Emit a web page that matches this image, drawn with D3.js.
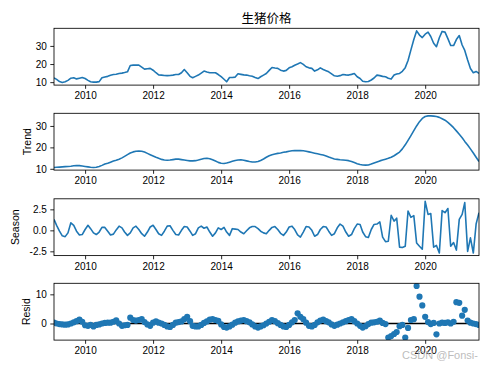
<!DOCTYPE html>
<html><head><meta charset="utf-8">
<script src="https://cdn.jsdelivr.net/npm/d3@7"></script>
<style>body{margin:0;background:#fff} svg{display:block}</style>
</head><body>
<svg id="c" width="490" height="368"></svg>
<script>
// ---- data (monthly, starting Feb 2009) ----
const startYear = 2009, startMonthIndex = 1; // Feb
const title = "生猪价格";
const panelLabels = ["", "Trend", "Season", "Resid"];
const observed = [
 12.4, 11.5, 10.3, 9.8, 10.2, 11.0, 12.2, 12.4, 11.8, 12.2,
 12.6, 12.0, 11.0, 10.2, 10.0, 10.0, 10.3, 12.4, 12.8, 13.2,
 13.8, 14.2, 14.4, 14.8, 15.0, 15.3, 15.7, 19.2, 19.4, 19.4,
 19.4, 18.3, 17.2, 17.4, 17.6, 16.6, 15.2, 14.0, 13.9, 13.7,
 13.6, 13.7, 13.9, 14.2, 14.2, 15.2, 17.0, 15.2, 13.2, 12.4,
 13.2, 13.9, 15.0, 16.1, 15.6, 15.2, 15.2, 15.2, 14.2, 13.0,
 11.6, 10.2, 12.6, 12.6, 12.8, 14.6, 14.3, 14.0, 13.9, 13.5,
 13.3, 12.6, 12.0, 13.0, 13.9, 14.8, 16.5, 18.1, 17.8, 17.6,
 16.6, 16.1, 16.5, 17.9, 18.5, 19.3, 20.0, 20.8, 19.8, 18.5,
 17.9, 17.6, 16.1, 16.8, 17.9, 17.0, 16.3, 15.7, 14.6, 13.5,
 13.3, 13.6, 14.2, 14.0, 13.9, 14.3, 14.8, 13.0, 12.0, 10.5,
 10.2, 10.4, 11.2, 12.3, 13.9, 13.6, 13.2, 13.0, 12.2, 11.7,
 13.9, 14.5, 14.8, 16.0, 18.0, 22.0, 27.8, 33.5, 38.3, 36.0,
 34.6, 36.5, 37.6, 35.2, 31.5, 29.6, 34.5, 38.0, 37.6, 34.0,
 30.2, 30.2, 33.5, 35.7, 30.5, 27.5, 22.2, 17.5, 15.2, 15.9, 14.8
];
const trend = [
 10.6, 10.7, 10.8, 10.9, 11.0, 11.1, 11.2, 11.4, 11.5, 11.5,
 11.3, 11.1, 10.9, 10.7, 10.6, 10.7, 11.1, 11.6, 12.2, 12.6,
 13.1, 13.6, 14.0, 14.5, 15.1, 15.8, 16.6, 17.4, 17.9, 18.2,
 18.3, 18.2, 17.8, 17.2, 16.6, 16.0, 15.4, 14.9, 14.4, 14.1,
 14.0, 14.1, 14.3, 14.5, 14.5, 14.3, 14.1, 13.9, 13.7, 13.7,
 13.8, 14.1, 14.5, 14.8, 14.9, 14.7, 14.2, 13.6, 13.0, 12.6,
 12.5, 12.7, 13.1, 13.5, 13.9, 14.1, 14.2, 14.0, 13.7, 13.4,
 13.2, 13.2, 13.4, 13.9, 14.6, 15.4, 16.1, 16.6, 16.9, 17.2,
 17.4, 17.7, 17.9, 18.2, 18.4, 18.5, 18.5, 18.5, 18.4, 18.2,
 17.9, 17.6, 17.3, 17.0, 16.7, 16.4, 16.0, 15.5, 15.0, 14.6,
 14.4, 14.2, 14.1, 14.0, 13.8, 13.4, 12.9, 12.4, 12.0, 11.8,
 11.7, 11.8, 12.2, 12.7, 13.2, 13.7, 14.1, 14.5, 14.9, 15.4,
 16.1, 16.9, 17.8, 19.3, 21.2, 23.3, 25.5, 27.8, 30.0, 32.0,
 33.5, 34.4, 34.7, 34.7, 34.6, 34.4, 34.0, 33.4, 32.7, 31.7,
 30.5, 29.2, 27.7, 26.1, 24.5, 22.8, 21.1, 19.3, 17.4, 15.4, 13.4
];
const season = [
 1.3, 0.6, -0.1, -0.65, -0.75, -0.3, 0.9, 0.6, -0.1, -0.55,
 -0.5, 0.1, 0.6, 0.2, -0.3, -0.5, -0.2, 0.35, 0.35, -0.1,
 -0.55, -0.45, 0.05, 0.5, 0.3, -0.2, -0.6, -0.3, 0.3, 0.5,
 0.1, -0.4, -0.7, -0.2, 0.4, 0.6, 0.1, -0.4, -0.6, -0.1,
 0.5, 0.55, 0.0, -0.5, -0.55, 0.0, 0.45, 0.4, -0.1, -0.6,
 -0.4, 0.3, 0.5, 0.25, 0.4, -0.2, -0.7, -0.3, 0.3, 0.1,
 0.35, -0.2, -0.6, 0.2, 0.15, 0.1, -0.2, -0.4, -0.05, 0.3,
 0.45, 0.45, 0.2, -0.1, -0.3, -0.4, 0.0, 0.35, 0.45, 0.1,
 -0.35, -0.6, -0.2, 0.4, 0.5, 0.1, -0.55, -0.8, -0.2, 0.45,
 0.4, 0.0, -0.7, -0.5, 0.1, 0.45, 0.4, -0.1, -0.6, -0.4,
 0.3, 0.75, 0.5, -0.2, -0.7, -0.5, 0.2, 0.75, 0.7, -0.2,
 -0.75, -0.85, 0.1, 0.7, 0.75, 1.0, -0.8, -1.35, -1.3, 1.8,
 1.1, 1.45, -2.0, -2.05, -1.9, 2.3, 1.55, 1.75, -1.5, -1.9,
 -2.25, 3.45, 1.9, 2.0, -2.0, -1.8, -2.7, 2.35, 2.1, 2.6,
 -1.9, -1.45, -2.35, 1.3, 1.9, 3.3, -2.5, -0.9, -2.7, 0.75, 2.1
];
const resid = [
 0.3, 0.0, -0.2, -0.3, -0.4, -0.3, 0.0, 0.4, 0.8, 1.3,
 0.6, -0.6, -0.8, -0.5, -1.0, -0.5, -0.3, 0.0, 0.2, 0.3,
 0.3, 0.6, 1.1, 0.0, -0.8, -0.6, -0.5, 2.0, 1.2, 1.0,
 1.2, 1.5, 0.5, -0.3, -0.8, 0.3, 0.7, 0.3, 0.0, -0.5,
 -1.0, -1.2, -0.5, 0.3, 0.5, 0.7, 1.5, 2.3, 0.8, -0.8,
 -1.0, -1.0, -0.5, 0.2, 0.7, 1.3, 1.5, 1.2, 0.9, -0.3,
 -1.2, -1.4, -1.0, -0.4, 0.3, 0.7, 1.0, 1.2, 0.8, 0.4,
 -0.3, -1.0, -1.4, -1.0, -0.6, 0.0, 0.6, 1.2, 0.8, 0.1,
 -0.5, -1.0, -1.2, -0.5, 0.4, 1.2, 3.5, 2.3, 1.5, 0.3,
 -0.8, -1.0, -0.5, 0.4, 1.0, 1.3, 0.8, 0.4, -0.3, -0.8,
 -0.4, 0.0, 0.4, 0.8, 1.2, 1.5, 0.8, 0.0, -0.8, -1.4,
 -0.9, -0.2, 0.3, 0.4, 0.6, 1.0, 0.2, -0.2, -4.8, -4.3,
 -3.6, -2.9, -0.9, -0.5, -4.8, -1.5, 1.2, 1.5, 12.9, 9.2,
 6.2, 2.3, 0.5, -0.2, 0.2, -3.7, 0.0, 0.3, 0.2, 0.4,
 0.0, 0.6, 7.3, 7.1, 2.7, 4.7, 1.0, 0.3, 0.0, -0.2, -0.5
];
const xTickYears = [2010, 2012, 2014, 2016, 2018, 2020];
const yTicks = [[10, 20, 30], [10, 20, 30], [-2.5, 0, 2.5], [0, 10]];
const watermark = "CSDN @Fonsi-";

// ---- layout ----
const svg = d3.select("#c");
const L = 54, R = 479;
const tops = [28.3, 113.3, 198.8, 283.3];
const H = 56.8;
const blue = "#1f77b4";
const latin = "'Liberation Sans', Arial, sans-serif";
const cjk = "'Noto Sans CJK SC', 'Noto Sans', sans-serif";

const dates = observed.map((_, i) => new Date(startYear, startMonthIndex + i, 1));
const x = d3.scaleTime().domain([dates[0], dates[dates.length - 1]]).range([L, R]);

const series = [observed, trend, season, resid];
const fmts = [d3.format("d"), d3.format("d"), d => d.toFixed(1), d3.format("d")];
const labelX = [0, 27, 15, 26];

series.forEach((vals, p) => {
  const top = tops[p], bot = top + H;
  const mn = d3.min(vals), mx = d3.max(vals), pad = (mx - mn) * 0.05;
  const y = d3.scaleLinear().domain([mn - pad, mx + pad]).range([bot, top]);
  const g = svg.append("g");
  const cid = "clip" + p;
  svg.append("clipPath").attr("id", cid).append("rect")
    .attr("x", L).attr("y", top).attr("width", R - L).attr("height", H);
  const content = g.append("g").attr("clip-path", `url(#${cid})`);
  if (p < 3) {
    content.append("path").datum(vals)
      .attr("fill", "none").attr("stroke", blue).attr("stroke-width", 1.6)
      .attr("stroke-linejoin", "round")
      .attr("d", d3.line().x((d, i) => x(dates[i])).y(d => y(d)));
  } else {
    content.append("line").attr("x1", L).attr("x2", R)
      .attr("y1", y(0)).attr("y2", y(0)).attr("stroke", "#000").attr("stroke-width", 1.6);
    content.selectAll("circle").data(vals).join("circle")
      .attr("cx", (d, i) => x(dates[i])).attr("cy", d => y(d)).attr("r", 3.1)
      .attr("fill", blue);
  }
  // x axis
  const xa = g.append("g").attr("transform", `translate(0,${bot})`)
    .call(d3.axisBottom(x).tickValues(xTickYears.map(yr => new Date(yr, 0, 1)))
      .tickFormat(d3.timeFormat("%Y")).tickSize(3.7).tickPadding(3.2));
  // y axis
  const ya = g.append("g").attr("transform", `translate(${L},0)`)
    .call(d3.axisLeft(y).tickValues(yTicks[p]).tickFormat(fmts[p]).tickSize(3.7).tickPadding(3.5));
  [xa, ya].forEach(a => {
    a.select(".domain").remove();
    a.selectAll(".tick line").attr("stroke", "#000").attr("stroke-width", 0.85);
    a.selectAll(".tick text").attr("fill", "#000").style("font-family", latin).style("font-size", "10px");
  });
  // frame
  g.append("rect").attr("x", L).attr("y", top).attr("width", R - L).attr("height", H)
    .attr("fill", "none").attr("stroke", "#000").attr("stroke-width", 0.85);
  if (panelLabels[p]) {
    g.append("text").attr("transform", `translate(${labelX[p]},${top + H / 2}) rotate(-90)`)
      .attr("text-anchor", "middle").attr("dy", "0.35em")
      .style("font-family", latin).style("font-size", "10.5px").attr("fill", "#000")
      .text(panelLabels[p]);
  }
});

svg.append("text").attr("x", (L + R) / 2).attr("y", 22.5).attr("text-anchor", "middle")
  .style("font-family", cjk).style("font-size", "12.5px").attr("fill", "#000").text(title);

svg.append("text").attr("x", 402).attr("y", 358.5)
  .style("font-family", latin).style("font-size", "11px").attr("fill", "#b4b4b4")
  .attr("fill-opacity", 0.9).text(watermark);
</script>
</body></html>
